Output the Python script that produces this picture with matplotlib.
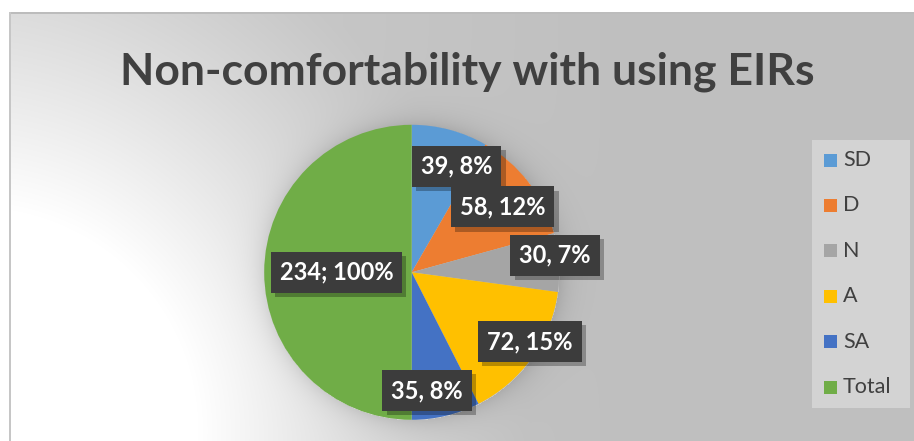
import numpy as np
import matplotlib
matplotlib.use("Agg")
import matplotlib.pyplot as plt
from matplotlib import patheffects as pe
from matplotlib.patches import Rectangle

# ---- data ----
title = "Non-comfortability with using EIRs"
categories = ["SD", "D", "N", "A", "SA", "Total"]
values = [39, 58, 30, 72, 35, 234]
percent_text = ["8%", "12%", "7%", "15%", "8%", "100%"]
separators = [", ", ", ", ", ", ", ", ", ", "; "]
colors = ["#5B9BD5", "#ED7D31", "#A5A5A5", "#FFC000", "#4472C4", "#70AD47"]

# ---- layout (pixels, origin top-left) ----
W, H = 914, 441
cx, cy, R = 411.7, 272.3, 147.5
label_radius = [0.78, 0.76, 0.98, 0.93, 0.81, 0.51]
label_nudge = [-8, -2, 3, 5, -6, 0]
text_dark = "#404040"

fig = plt.figure(figsize=(W / 100, H / 100), dpi=100)


def fx(px):
    return px / W


def fy(py):
    return 1 - py / H


# ---- background: grey panel with a soft light corner and pie shadow ----
ys, xs = np.mgrid[0:H, 0:W].astype(float)
d = np.hypot(xs - 0.0, ys - 430.0)
radial = np.clip(1 - (d - 150) / 380, 0, 1) ** 1.2
lin = 14 * np.clip(1 - xs / 600, 0, 1)
level = 192 + lin + 63 * radial
dist = np.hypot(xs - cx, ys - cy) - R
shadow = np.where(dist > 0, 24 * np.exp(-np.clip(dist, 0, None) / 12), 0)
level = np.clip(level - shadow, 0, 255)
level[:12, :] = 255
level[:, :9] = 255
level[12:14, 9:] = 188
level[12:, 9:11] = 198
bg = np.dstack([level, level, level]) / 255.0

bg_ax = fig.add_axes([0, 0, 1, 1], zorder=0)
bg_ax.imshow(bg, extent=(0, W, H, 0), aspect="auto", interpolation="bilinear")
bg_ax.set_xlim(0, W)
bg_ax.set_ylim(H, 0)
bg_ax.axis("off")

# ---- pie ----
ax = fig.add_axes([fx(cx - R), fy(cy + R), (2 * R) / W, (2 * R) / H], zorder=1)
wedges, _ = ax.pie(values, colors=colors, startangle=90, counterclock=False,
                   radius=1, wedgeprops=dict(linewidth=0))
ax.set_xlim(-1, 1)
ax.set_ylim(-1, 1)
ax.set_aspect("equal")
ax.axis("off")

for w, v, sep, pct, rf, nd in zip(wedges, values, separators, percent_text,
                                  label_radius, label_nudge):
    ang = np.deg2rad((w.theta1 + w.theta2) / 2 + nd)
    t = ax.text(rf * np.cos(ang), rf * np.sin(ang), f"{v}{sep}{pct}",
                ha="center", va="center", color="white", fontsize=17,
                fontweight="bold", family="Lato", zorder=5,
                bbox=dict(boxstyle="square,pad=0.38", fc="#3C3C3C", ec="none"))
    t.get_bbox_patch().set_path_effects(
        [pe.SimplePatchShadow(offset=(3, -3), shadow_rgbFace="black", alpha=0.28),
         pe.Normal()])

# ---- title ----
fig.text(fx(467), fy(72), title, ha="center", va="center", fontsize=32,
         fontweight="bold", family="Lato", color=text_dark, zorder=3)

# ---- legend ----
fig.add_artist(Rectangle((fx(812), fy(408)), 98 / W, 268 / H,
                         transform=fig.transFigure, fc="#D3D3D3", ec="none",
                         zorder=3))
for i, (name, col) in enumerate(zip(categories, colors)):
    yc = 160 + i * 45.4
    fig.add_artist(Rectangle((fx(824), fy(yc + 6.5)), 13 / W, 13 / H,
                             transform=fig.transFigure, fc=col, ec="none",
                             zorder=4))
    fig.text(fx(843), fy(yc), name, ha="left", va="center", fontsize=15.5,
             family="Lato", color=text_dark, zorder=4)

fig.savefig("out.png", dpi=100)
